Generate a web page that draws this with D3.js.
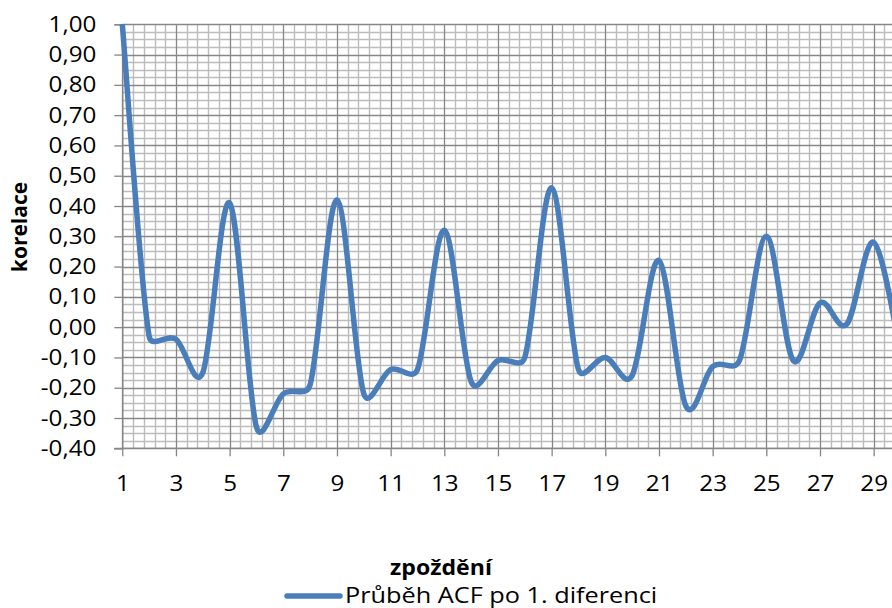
<!DOCTYPE html>
<html>
<head>
<meta charset="utf-8">
<script src="https://cdn.jsdelivr.net/npm/d3@7"></script>
<style>
  html, body { margin: 0; padding: 0; background: #fff; overflow: hidden; }
  svg { display: block; }
  text { font-family: "Open Sans", "Liberation Sans", sans-serif; fill: #000; }
</style>
</head>
<body>
<svg id="chart" width="892" height="608"></svg>
<script>
// Lags (zpoždění) of the autocorrelation function
const lags = d3.range(1, 31);
// ACF after first differencing
const acfValues = [
  1.00, -0.03, -0.04, -0.15, 0.41, -0.33, -0.22, -0.19, 0.42, -0.22,
  -0.14, -0.14, 0.32, -0.18, -0.11, -0.10, 0.46, -0.14, -0.10, -0.16,
  0.22, -0.26, -0.13, -0.11, 0.30, -0.11, 0.08, 0.01, 0.28, -0.08
];
const yTicks = d3.range(-0.4, 1.0001, 0.1).map(v => Math.round(v * 100) / 100);
const xTickLabels = lags.filter(d => d % 2 === 1);
const seriesName = "Průběh ACF po 1. diferenci";
const xTitle = "zpoždění";
const yTitle = "korelace";

const svg = d3.select("#chart");
const plotLeft = 122.3, plotRight = 900.5, plotTop = 24.3, plotBottom = 448.3;
const fontSize = 22;

const x = d3.scaleLinear().domain([1, 30]).range([plotLeft, plotRight]);
const y = d3.scaleLinear().domain([-0.4, 1.0]).range([plotBottom, plotTop]);

const fmt = v => d3.format(".2f")(v).replace(".", ",").replace("−", "-");

// minor grid
const minorY = d3.range(-0.4, 1.0001, 0.025).filter((v, i) => i % 4 !== 0);
const minorX = d3.range(1, 31, 0.4).filter((v, i) => i % 5 !== 0);
const grid = svg.append("g");
grid.selectAll("line.hmin").data(minorY).join("line")
  .attr("x1", plotLeft).attr("x2", 892)
  .attr("y1", d => Math.round(y(d)) + 0.5).attr("y2", d => Math.round(y(d)) + 0.5)
  .attr("stroke", "#bcbcbc").attr("stroke-width", 1.4);
grid.selectAll("line.vmin").data(minorX).join("line")
  .attr("x1", d => Math.round(x(d)) + 0.5).attr("x2", d => Math.round(x(d)) + 0.5)
  .attr("y1", plotTop).attr("y2", plotBottom)
  .attr("stroke", "#bcbcbc").attr("stroke-width", 1.4);
// major grid
grid.selectAll("line.hmaj").data(yTicks).join("line")
  .attr("x1", plotLeft).attr("x2", 892)
  .attr("y1", d => Math.round(y(d)) + 0.5).attr("y2", d => Math.round(y(d)) + 0.5)
  .attr("stroke", "#878787").attr("stroke-width", 1.3);
grid.selectAll("line.vmaj").data(xTickLabels).join("line")
  .attr("x1", d => Math.round(x(d)) + 0.5).attr("x2", d => Math.round(x(d)) + 0.5)
  .attr("y1", plotTop).attr("y2", plotBottom)
  .attr("stroke", "#878787").attr("stroke-width", 1.3);

// axes (labels are slightly widened horizontally)
const labelStretch = 1.1;
const yAxis = d3.axisLeft(y).tickValues(yTicks).tickFormat(fmt).tickSize(8);
svg.append("g").attr("transform", `translate(${plotLeft},0)`).call(yAxis)
  .call(g => g.selectAll("path.domain").attr("stroke", "#878787").attr("stroke-width", 1.3))
  .call(g => g.selectAll(".tick line").attr("stroke", "#878787").attr("stroke-width", 1.3))
  .call(g => g.selectAll("text")
    .attr("font-size", fontSize).attr("font-family", "Open Sans").attr("fill", "#000")
    .attr("x", -26 / labelStretch)
    .attr("transform", `scale(${labelStretch},1)`));

const xAxis = d3.axisBottom(x).tickValues(xTickLabels).tickFormat(d3.format("d"))
  .tickSize(8).tickSizeOuter(0).tickPadding(19);
svg.append("g").attr("transform", `translate(0,${plotBottom})`).call(xAxis)
  .call(g => g.select("path.domain").attr("d", `M${plotLeft - 8},0H892`).attr("stroke", "#878787").attr("stroke-width", 1.3))
  .call(g => g.selectAll(".tick line").attr("stroke", "#878787").attr("stroke-width", 1.3))
  .call(g => g.selectAll("text")
    .attr("font-size", fontSize).attr("font-family", "Open Sans").attr("fill", "#000")
    .attr("transform", `scale(${labelStretch},1)`));

// Smoothed line: cubic Bezier segments whose control arms follow the
// neighbour-to-neighbour tangent (1/6 of its length), limited to half
// of the segment they belong to so short segments do not overshoot.
function smoothPath(pts) {
  const p = d3.path();
  const n = pts.length;
  const dist = (a, b) => Math.hypot(b[0] - a[0], b[1] - a[1]);
  const tangent = i => {
    const a = pts[Math.max(0, i - 1)], b = pts[Math.min(n - 1, i + 1)];
    return [b[0] - a[0], b[1] - a[1]];
  };
  p.moveTo(pts[0][0], pts[0][1]);
  for (let i = 0; i < n - 1; i++) {
    const a = pts[i], b = pts[i + 1];
    const seg = dist(a, b);
    let ta = tangent(i), tb = tangent(i + 1);
    let fa = 1 / 6, fb = 1 / 6;
    const la = Math.hypot(ta[0], ta[1]) * fa, lb = Math.hypot(tb[0], tb[1]) * fb;
    if (la > seg / 2) fa *= (seg / 2) / la;
    if (lb > seg / 2) fb *= (seg / 2) / lb;
    p.bezierCurveTo(
      a[0] + ta[0] * fa, a[1] + ta[1] * fa,
      b[0] - tb[0] * fb, b[1] - tb[1] * fb,
      b[0], b[1]);
  }
  return p.toString();
}
const pts = acfValues.map((v, i) => [x(lags[i]), y(v)]);
svg.append("path")
  .attr("d", smoothPath(pts))
  .attr("fill", "none")
  .attr("stroke", "#4a7ebb")
  .attr("stroke-width", 5.5)
  .attr("stroke-linejoin", "round");

// axis titles
svg.append("text")
  .attr("transform", "translate(27,227) rotate(-90)")
  .attr("text-anchor", "middle")
  .attr("font-size", 21).attr("font-weight", "bold")
  .text(yTitle);
svg.append("text")
  .attr("transform", "translate(441,575) scale(1.05,1)")
  .attr("text-anchor", "middle")
  .attr("font-size", fontSize).attr("font-weight", "bold")
  .text(xTitle);

// legend
const lg = svg.append("g");
lg.append("line").attr("x1", 287).attr("x2", 340).attr("y1", 596).attr("y2", 596)
  .attr("stroke", "#4a7ebb").attr("stroke-width", 5.5).attr("stroke-linecap", "round");
lg.append("text").attr("transform", "translate(345,603) scale(1.15,1)")
  .attr("font-size", fontSize).text(seriesName);
</script>
</body>
</html>
